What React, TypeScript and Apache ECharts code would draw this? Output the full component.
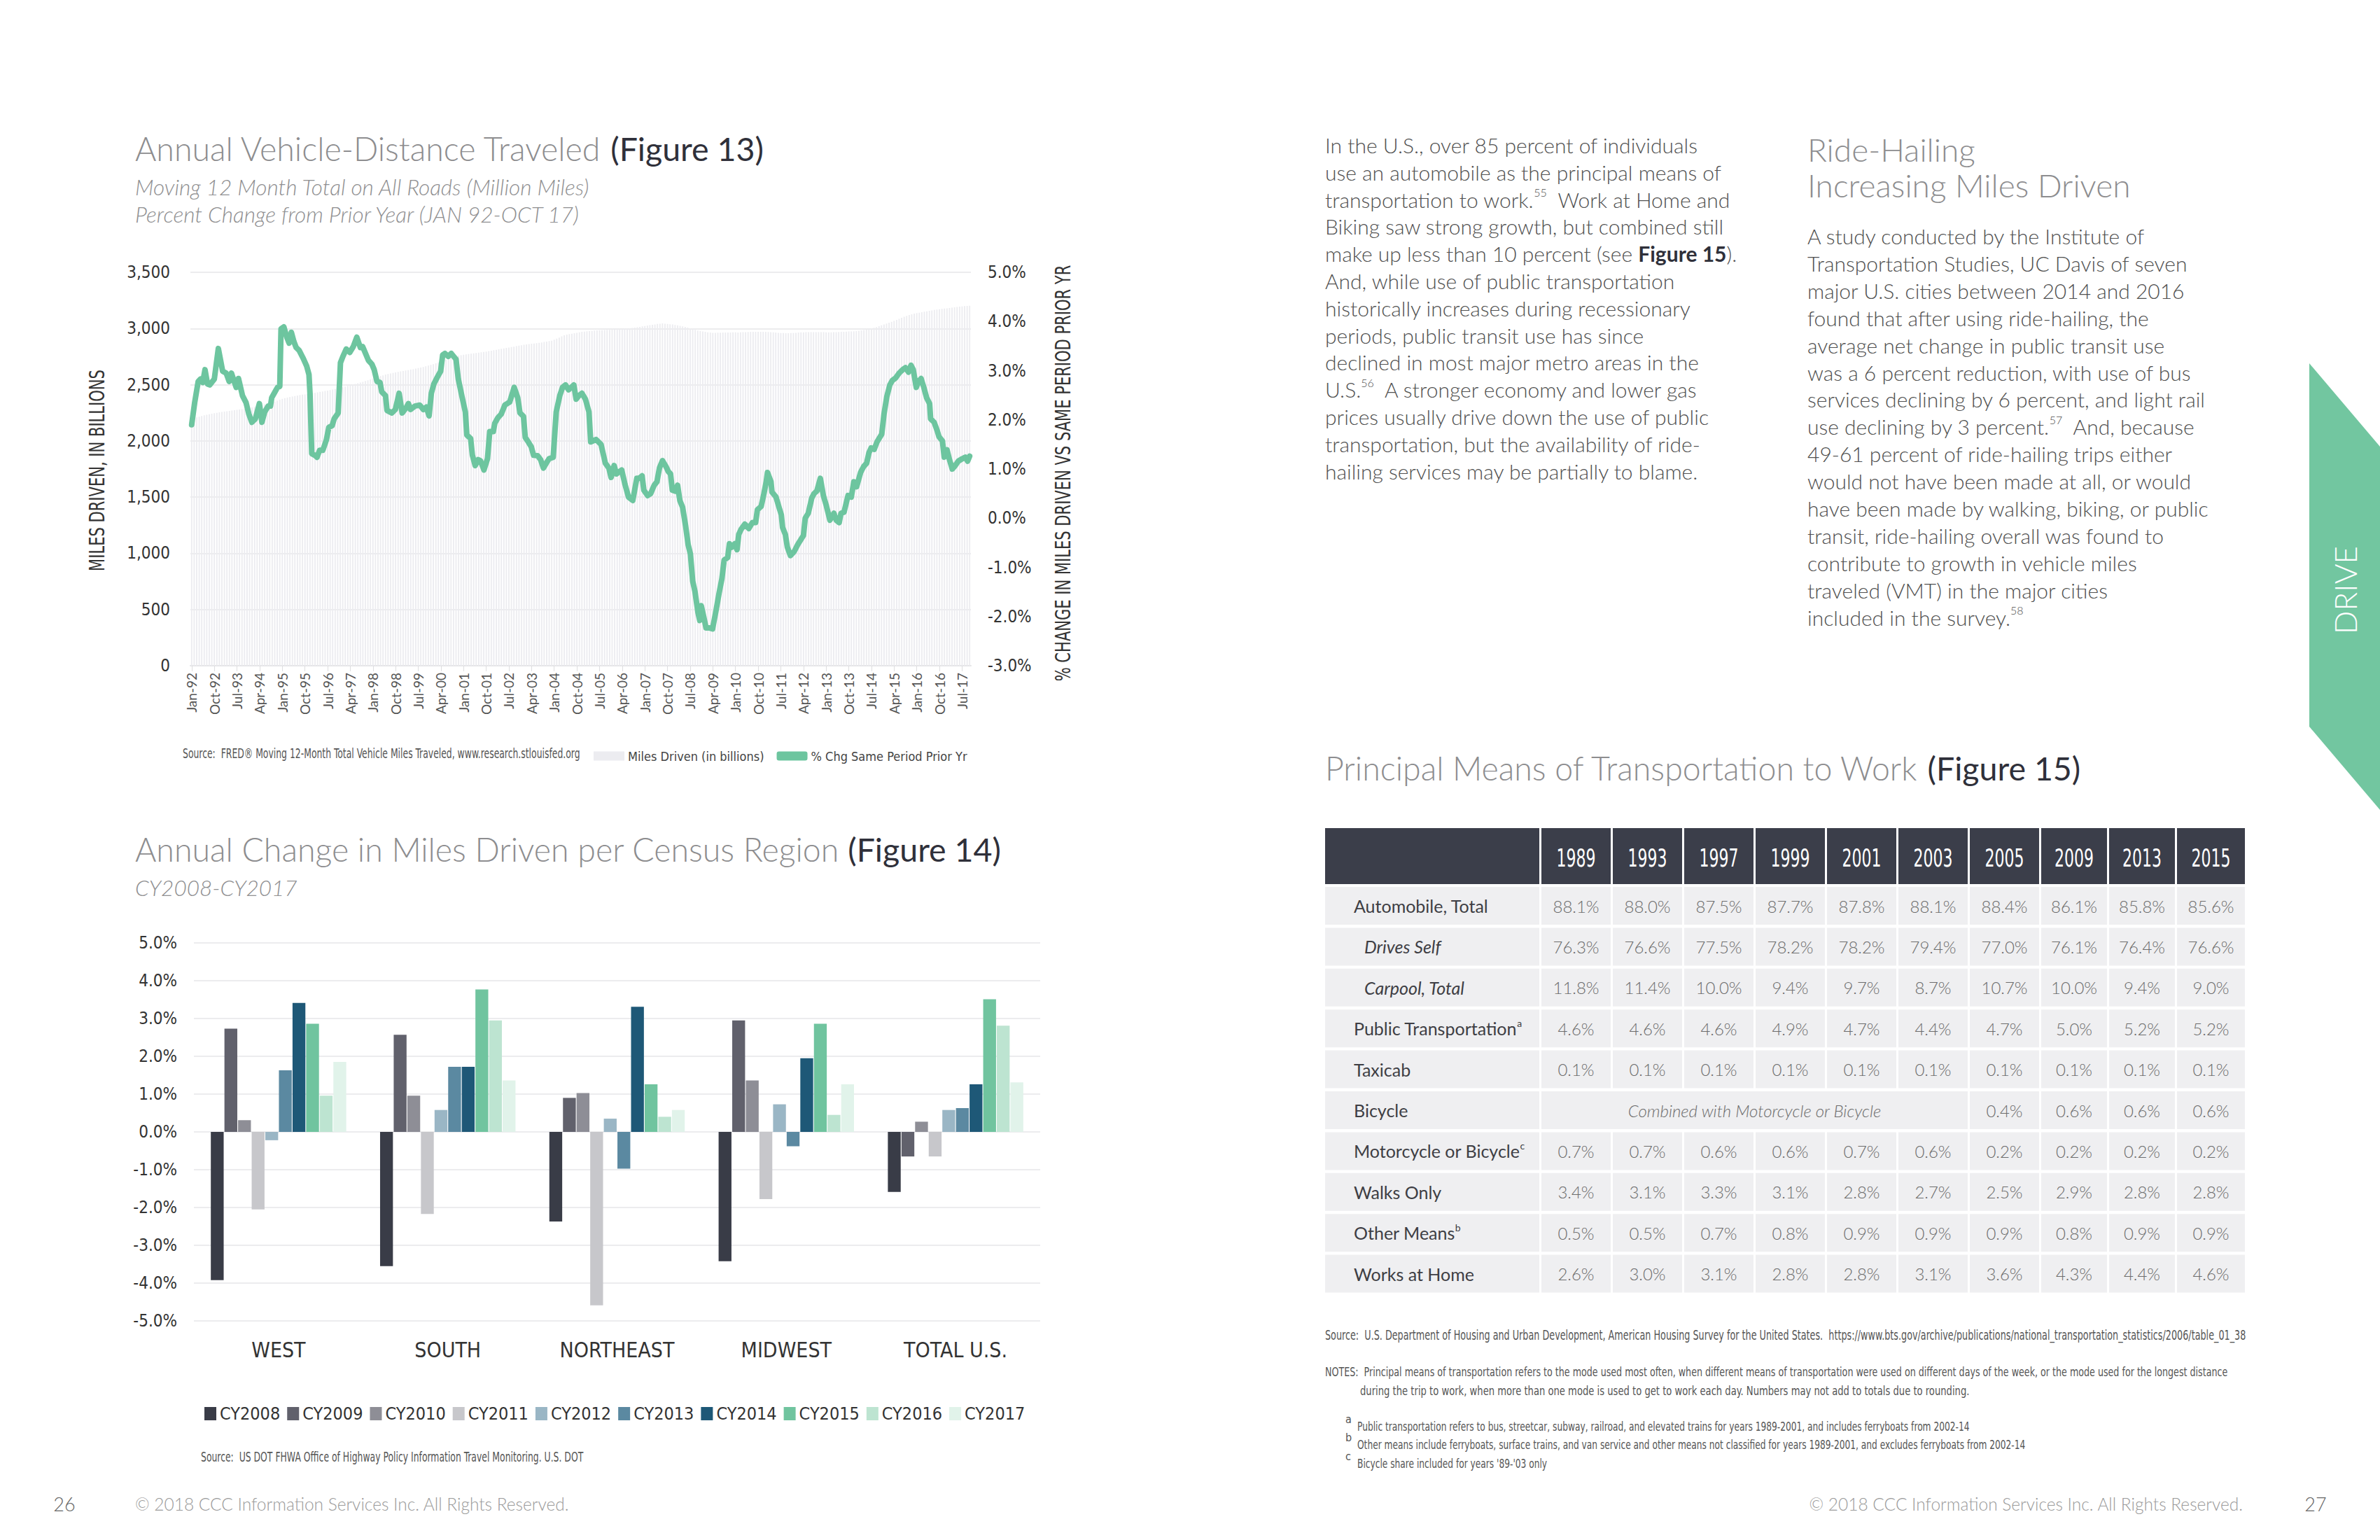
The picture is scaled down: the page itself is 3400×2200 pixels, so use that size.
import React, { useEffect, useRef } from 'react';
import * as echarts from 'echarts';

const SANS = "Lato, 'Open Sans', 'DejaVu Sans', sans-serif";
const NARROW = "'Liberation Sans Narrow', 'DejaVu Sans Condensed', 'DejaVu Sans', sans-serif";

// ---------- Figure 13 data ----------
const MONTH_NAMES = ['Jan', 'Feb', 'Mar', 'Apr', 'May', 'Jun', 'Jul', 'Aug', 'Sep', 'Oct', 'Nov', 'Dec'];
const FIRST_YEAR = 1992;
const LAST_YEAR = 2017;
const LAST_MONTH = 9; // Oct
const monthCategories: string[] = [];
for (let y = FIRST_YEAR; y <= LAST_YEAR; y++) {
  for (let m = 0; m < 12; m++) {
    if (y === LAST_YEAR && m > LAST_MONTH) break;
    monthCategories.push(`${MONTH_NAMES[m]}-${String(y % 100).padStart(2, '0')}`);
  }
}

// Moving 12-month total miles driven (billions), read per month by year
const miles1992 = [2200, 2205, 2210, 2215, 2222, 2228, 2233, 2238, 2242, 2246, 2250, 2254];
const miles1993 = [2258, 2261, 2264, 2267, 2270, 2273, 2276, 2279, 2282, 2286, 2290, 2294];
const miles1994 = [2298, 2303, 2308, 2313, 2318, 2324, 2330, 2336, 2343, 2350, 2358, 2366];
const miles1995 = [2375, 2380, 2385, 2390, 2395, 2400, 2404, 2408, 2411, 2414, 2418, 2422];
const miles1996 = [2425, 2428, 2432, 2436, 2440, 2444, 2448, 2452, 2457, 2462, 2467, 2472];
const miles1997 = [2477, 2483, 2489, 2495, 2501, 2507, 2513, 2519, 2526, 2533, 2540, 2547];
const miles1998 = [2555, 2562, 2569, 2576, 2583, 2590, 2595, 2600, 2605, 2610, 2614, 2618];
const miles1999 = [2622, 2626, 2630, 2634, 2638, 2643, 2648, 2653, 2658, 2664, 2670, 2676];
const miles2000 = [2682, 2690, 2698, 2706, 2714, 2722, 2730, 2738, 2746, 2752, 2757, 2762];
const miles2001 = [2766, 2770, 2773, 2776, 2779, 2782, 2785, 2788, 2791, 2795, 2799, 2803];
const miles2002 = [2807, 2811, 2815, 2819, 2823, 2827, 2831, 2835, 2839, 2843, 2847, 2851];
const miles2003 = [2855, 2858, 2861, 2864, 2867, 2870, 2873, 2876, 2880, 2884, 2888, 2892];
const miles2004 = [2900, 2910, 2920, 2930, 2940, 2945, 2950, 2954, 2958, 2962, 2966, 2970];
const miles2005 = [2972, 2975, 2977, 2979, 2981, 2983, 2984, 2985, 2986, 2987, 2988, 2989];
const miles2006 = [2990, 2992, 2994, 2996, 2998, 3000, 3002, 3005, 3008, 3011, 3015, 3019];
const miles2007 = [3022, 3026, 3030, 3033, 3036, 3040, 3043, 3045, 3043, 3040, 3038, 3036];
const miles2008 = [3032, 3028, 3024, 3019, 3014, 3008, 3000, 2994, 2988, 2982, 2978, 2974];
const miles2009 = [2970, 2966, 2964, 2962, 2962, 2963, 2963, 2964, 2964, 2965, 2965, 2966];
const miles2010 = [2966, 2965, 2966, 2967, 2968, 2969, 2970, 2970, 2970, 2971, 2971, 2970];
const miles2011 = [2970, 2969, 2968, 2966, 2964, 2962, 2960, 2959, 2958, 2958, 2959, 2960];
const miles2012 = [2962, 2964, 2966, 2966, 2967, 2967, 2967, 2968, 2968, 2968, 2968, 2967];
const miles2013 = [2966, 2966, 2966, 2967, 2968, 2969, 2970, 2971, 2972, 2973, 2974, 2975];
const miles2014 = [2977, 2980, 2983, 2986, 2990, 2995, 3000, 3006, 3012, 3020, 3028, 3036];
const miles2015 = [3044, 3052, 3060, 3068, 3077, 3086, 3095, 3104, 3112, 3120, 3126, 3132];
const miles2016 = [3137, 3141, 3145, 3149, 3153, 3157, 3161, 3165, 3168, 3171, 3174, 3177];
const miles2017 = [3180, 3183, 3186, 3189, 3192, 3195, 3197, 3199, 3201, 3203];
const milesDriven = [
  ...miles1992, ...miles1993, ...miles1994, ...miles1995, ...miles1996, ...miles1997,
  ...miles1998, ...miles1999, ...miles2000, ...miles2001, ...miles2002, ...miles2003,
  ...miles2004, ...miles2005, ...miles2006, ...miles2007, ...miles2008, ...miles2009,
  ...miles2010, ...miles2011, ...miles2012, ...miles2013, ...miles2014, ...miles2015,
  ...miles2016, ...miles2017,
];

// % change vs same period prior year: [month index (0 = Jan-92), percent]
const pctChange: [number, number][] = [
  [0, 1.9], [1.2, 2.35], [2.6, 2.78], [3.5, 2.83], [4.4, 2.76], [5.3, 3.02], [6.3, 2.73], [7.2, 2.71], [9.0, 2.83], [10.6, 3.45],
  [12.3, 2.99], [13.7, 2.95], [14.9, 2.78], [15.8, 2.95], [16.9, 2.78], [17.7, 2.66], [18.6, 2.84], [20.2, 2.49], [21.6, 2.35], [22.7, 2.12],
  [23.9, 1.95], [25.3, 2.02], [26.9, 2.33], [27.9, 1.95], [29.0, 2.16], [30.4, 2.28], [31.3, 2.28], [31.8, 2.45], [33.1, 2.57], [34.1, 2.66],
  [35.0, 2.68], [35.5, 3.85], [36.6, 3.89], [37.8, 3.68], [38.7, 3.56], [39.6, 3.78], [40.6, 3.59], [41.5, 3.47], [42.7, 3.41], [44.3, 3.25],
  [45.7, 3.09], [46.6, 2.92], [47.0, 2.54], [47.7, 1.31], [48.9, 1.28], [49.8, 1.24], [50.8, 1.38], [52.1, 1.38], [53.5, 1.59], [54.5, 1.85],
  [55.8, 1.88], [56.6, 2.02], [58.2, 2.14], [59.1, 3.16], [60.0, 3.28], [61.4, 3.44], [62.8, 3.37], [64.2, 3.49], [65.6, 3.68], [67.0, 3.47],
  [67.9, 3.49], [69.3, 3.32], [70.2, 3.21], [71.6, 3.13], [72.5, 3.02], [73.6, 2.78], [74.8, 2.76], [75.5, 2.57], [77.0, 2.49], [77.6, 2.19],
  [79.5, 2.14], [80.9, 2.21], [82.4, 2.54], [83.6, 2.14], [85.0, 2.23], [86.1, 2.33], [86.9, 2.21], [88.7, 2.28], [90.6, 2.3], [92.0, 2.21],
  [93.2, 2.26], [94.3, 2.08], [95.2, 2.54], [96.2, 2.73], [97.6, 2.87], [98.9, 2.99], [99.7, 3.32], [100.6, 3.35], [101.9, 3.29], [103.1, 3.35],
  [105.0, 3.23], [105.9, 2.83], [107.3, 2.49], [108.7, 2.16], [109.3, 1.69], [110.8, 1.62], [111.5, 1.28], [112.6, 1.07], [113.8, 1.19], [114.7, 1.17],
  [116.1, 0.98], [117.5, 1.21], [118.4, 1.76], [119.8, 1.76], [120.4, 1.93], [121.6, 2.04], [123.0, 2.12], [124.4, 2.3], [126.3, 2.36], [128.1, 2.66],
  [129.5, 2.45], [130.4, 2.14], [131.8, 2.07], [132.5, 1.64], [133.7, 1.55], [134.9, 1.45], [135.8, 1.28], [137.4, 1.27], [138.6, 1.19], [139.7, 1.02],
  [141.1, 1.14], [142.0, 1.21], [143.6, 1.24], [144.8, 2.16], [146.2, 2.49], [147.3, 2.66], [148.5, 2.71], [149.7, 2.61], [151.8, 2.71], [152.7, 2.42],
  [153.8, 2.49], [155.0, 2.54], [156.4, 2.42], [157.8, 2.16], [158.5, 1.55], [160.6, 1.6], [162.6, 1.5], [164.3, 1.12], [165.7, 1.02], [166.6, 0.83],
  [167.8, 1.07], [168.7, 0.9], [170.8, 0.98], [172.1, 0.69], [173.5, 0.43], [175.2, 0.36], [176.8, 0.81], [177.7, 0.81], [178.9, 0.86], [179.6, 0.57],
  [181.1, 0.46], [182.3, 0.5], [183.7, 0.67], [184.8, 0.74], [185.8, 1.02], [187.0, 1.17], [188.4, 1.05], [189.3, 0.95], [190.2, 0.9], [190.9, 0.57],
  [192.1, 0.55], [193.0, 0.67], [193.9, 0.36], [195.0, 0.22], [196.2, -0.16], [197.2, -0.54], [198.1, -0.73], [199.0, -1.28], [199.9, -1.49], [201.1, -1.92],
  [201.8, -2.08], [202.4, -1.78], [203.4, -2.01], [204.3, -2.23], [205.5, -2.23], [206.9, -2.25], [208.3, -1.87], [209.5, -1.52], [210.6, -1.23], [211.5, -0.85],
  [212.9, -0.8], [213.6, -0.52], [214.5, -0.59], [215.7, -0.52], [216.6, -0.64], [217.3, -0.33], [218.2, -0.23], [219.7, -0.12], [221.3, -0.21], [222.7, -0.09],
  [224.0, -0.09], [224.7, 0.17], [226.2, 0.24], [227.3, 0.5], [228.2, 0.74], [228.7, 0.93], [230.1, 0.74], [230.5, 0.53], [232.1, 0.43], [233.3, 0.22],
  [234.2, 0.07], [234.7, -0.19], [235.8, -0.33], [236.6, -0.59], [237.8, -0.76], [239.3, -0.68], [240.7, -0.54], [243.0, -0.35], [243.7, 0.0], [244.9, 0.1],
  [246.3, 0.41], [247.2, 0.5], [248.3, 0.55], [249.7, 0.81], [250.9, 0.46], [252.0, 0.27], [253.5, -0.04], [255.1, 0.1], [256.0, -0.04], [257.2, -0.09],
  [257.9, 0.1], [259.1, 0.12], [260.7, 0.46], [262.0, 0.43], [263.0, 0.74], [264.1, 0.64], [265.7, 0.93], [266.9, 1.05], [268.1, 1.12], [269.0, 1.33],
  [269.9, 1.43], [271.1, 1.4], [272.2, 1.55], [274.1, 1.71], [275.0, 2.12], [276.1, 2.47], [277.3, 2.71], [278.3, 2.8], [279.6, 2.85], [281.0, 2.95],
  [282.4, 3.02], [283.5, 3.06], [284.7, 2.97], [285.7, 3.11], [286.6, 3.02], [287.8, 2.66], [288.7, 2.78], [289.7, 2.84], [290.8, 2.66], [291.9, 2.45],
  [293.1, 2.33], [293.5, 2.02], [294.9, 1.95], [296.1, 1.78], [296.8, 1.66], [298.2, 1.57], [298.9, 1.24], [300.0, 1.39], [301.0, 1.19], [302.1, 1.0],
  [303.3, 1.07], [304.5, 1.16], [306.1, 1.21], [307.3, 1.24], [308.2, 1.16], [309.0, 1.26],
];

// ---------- Figure 14 data ----------
const regions = ['WEST', 'SOUTH', 'NORTHEAST', 'MIDWEST', 'TOTAL U.S.'];
const cyNames = ['CY2008', 'CY2009', 'CY2010', 'CY2011', 'CY2012', 'CY2013', 'CY2014', 'CY2015', 'CY2016', 'CY2017'];
const cy2008 = [-3.92, -3.55, -2.37, -3.42, -1.59];
const cy2009 = [2.73, 2.57, 0.9, 2.95, -0.65];
const cy2010 = [0.31, 0.96, 1.03, 1.36, 0.27];
const cy2011 = [-2.05, -2.17, -4.59, -1.78, -0.65];
const cy2012 = [-0.22, 0.58, 0.35, 0.73, 0.58];
const cy2013 = [1.63, 1.72, -0.97, -0.38, 0.63];
const cy2014 = [3.41, 1.72, 3.31, 1.95, 1.26];
const cy2015 = [2.86, 3.77, 1.26, 2.86, 3.51];
const cy2016 = [0.96, 2.95, 0.4, 0.45, 2.81];
const cy2017 = [1.85, 1.36, 0.58, 1.26, 1.31];
const cyValues = [cy2008, cy2009, cy2010, cy2011, cy2012, cy2013, cy2014, cy2015, cy2016, cy2017];
const cyColors = ['#393c47', '#61616c', '#8e8e96', '#c7c7cb', '#9ab6c5', '#5b89a1', '#1e5877', '#70c49f', '#bde4d1', '#e1f3ea'];

// ---------- Figure 15 data ----------
const tableYears = ['1989', '1993', '1997', '1999', '2001', '2003', '2005', '2009', '2013', '2015'];
const rowLabels = ['Automobile, Total', 'Drives Self', 'Carpool, Total', 'Public Transportation', 'Taxicab', 'Bicycle', 'Motorcycle or Bicycle', 'Walks Only', 'Other Means', 'Works at Home'];
const rowNotes = ['', '', '', 'a', '', '', 'c', '', 'b', ''];
const rowItalic = [false, true, true, false, false, false, false, false, false, false];
const automobileTotal = [88.1, 88.0, 87.5, 87.7, 87.8, 88.1, 88.4, 86.1, 85.8, 85.6];
const drivesSelf = [76.3, 76.6, 77.5, 78.2, 78.2, 79.4, 77.0, 76.1, 76.4, 76.6];
const carpoolTotal = [11.8, 11.4, 10.0, 9.4, 9.7, 8.7, 10.7, 10.0, 9.4, 9.0];
const publicTransportation = [4.6, 4.6, 4.6, 4.9, 4.7, 4.4, 4.7, 5.0, 5.2, 5.2];
const taxicab = [0.1, 0.1, 0.1, 0.1, 0.1, 0.1, 0.1, 0.1, 0.1, 0.1];
const bicycle = [null, null, null, null, null, null, 0.4, 0.6, 0.6, 0.6];
const motorcycleOrBicycle = [0.7, 0.7, 0.6, 0.6, 0.7, 0.6, 0.2, 0.2, 0.2, 0.2];
const walksOnly = [3.4, 3.1, 3.3, 3.1, 2.8, 2.7, 2.5, 2.9, 2.8, 2.8];
const otherMeans = [0.5, 0.5, 0.7, 0.8, 0.9, 0.9, 0.9, 0.8, 0.9, 0.9];
const worksAtHome = [2.6, 3.0, 3.1, 2.8, 2.8, 3.1, 3.6, 4.3, 4.4, 4.6];
const tableRows: (number | null)[][] = [automobileTotal, drivesSelf, carpoolTotal, publicTransportation, taxicab, bicycle, motorcycleOrBicycle, walksOnly, otherMeans, worksAtHome];
const mergedNote = 'Combined with Motorcycle or Bicycle';

// ---------- Texts ----------
const leftColumn = [
  'In the U.S., over 85 percent of individuals',
  'use an automobile as the principal means of',
  'transportation to work.{s|55}  Work at Home and',
  'Biking saw strong growth, but combined still',
  'make up less than 10 percent (see {b|Figure 15}).',
  'And, while use of public transportation',
  'historically increases during recessionary',
  'periods, public transit use has since',
  'declined in most major metro areas in the',
  'U.S.{s|56}  A stronger economy and lower gas',
  'prices usually drive down the use of public',
  'transportation, but the availability of ride-',
  'hailing services may be partially to blame.',
];
const rightColumn = [
  'A study conducted by the Institute of',
  'Transportation Studies, UC Davis of seven',
  'major U.S. cities between 2014 and 2016',
  'found that after using ride-hailing, the',
  'average net change in public transit use',
  'was a 6 percent reduction, with use of bus',
  'services declining by 6 percent, and light rail',
  'use declining by 3 percent.{s|57}  And, because',
  '49-61 percent of ride-hailing trips either',
  'would not have been made at all, or would',
  'have been made by walking, biking, or public',
  'transit, ride-hailing overall was found to',
  'contribute to growth in vehicle miles',
  'traveled (VMT) in the major cities',
  'included in the survey.{s|58}',
];
const footnotes = [
  ['a', 'Public transportation refers to bus, streetcar, subway, railroad, and elevated trains for years 1989-2001, and includes ferryboats from 2002-14'],
  ['b', 'Other means include ferryboats, surface trains, and van service and other means not classified for years 1989-2001, and excludes ferryboats from 2002-14'],
  ['c', "Bicycle share included for years '89-'03 only"],
];

// ---------- helpers ----------
const TITLE_GREY = '#8d8d8f';
const DARK = '#2f303a';
const BODY = '#505050';

function txt(x: number, y: number, text: string, style: any, extra: any = {}) {
  return { type: 'text', x, y, silent: true, ...extra, style: { text, ...style } };
}

function titleRich(x: number, y: number, main: string, fig: string) {
  return txt(x, y, `{a|${main}}{b| ${fig}}`, {
    verticalAlign: 'middle',
    rich: {
      a: { fontFamily: SANS, fontSize: 46.5, fontWeight: 300, fill: TITLE_GREY },
      b: { fontFamily: SANS, fontSize: 46.5, fontWeight: 400, fill: DARK },
    },
  });
}

function bodyLine(x: number, y: number, text: string) {
  return txt(x, y, text, {
    fontFamily: SANS, fontSize: 30, fontWeight: 300, fill: BODY, verticalAlign: 'middle', lineHeight: 36,
    rich: {
      s: { fontFamily: SANS, fontSize: 16, fontWeight: 300, fill: BODY, lineHeight: 20, verticalAlign: 'top' },
      b: { fontFamily: SANS, fontSize: 30, fontWeight: 700, fill: DARK, lineHeight: 36 },
    },
  });
}

function buildGraphic() {
  const els: any[] = [];

  // ---- Figure 13 header ----
  els.push(titleRich(193, 212, 'Annual Vehicle-Distance Traveled', '(Figure 13)'));
  const subStyle = { fontFamily: SANS, fontSize: 31.5, fontStyle: 'italic', fontWeight: 300, fill: '#8f8f91', verticalAlign: 'middle' };
  els.push(txt(193, 267, 'Moving 12 Month Total on All Roads (Million Miles)', subStyle));
  els.push(txt(193, 306, 'Percent Change from Prior Year (JAN 92-OCT 17)', subStyle));
  const axisNameStyle = { fontFamily: NARROW, fontSize: 30, fill: '#333', align: 'center', verticalAlign: 'middle' };
  els.push(txt(138, 672, 'MILES DRIVEN, IN BILLIONS', axisNameStyle, { rotation: Math.PI / 2, scaleX: 0.78 }));
  els.push(txt(1518, 676, '% CHANGE IN MILES DRIVEN VS SAME PERIOD PRIOR YR', axisNameStyle, { rotation: Math.PI / 2, scaleX: 0.78 }));
  els.push(txt(261, 1076, 'Source:  FRED\u00ae Moving 12-Month Total Vehicle Miles Traveled, www.research.stlouisfed.org',
    { fontFamily: NARROW, fontSize: 20, fill: '#555', verticalAlign: 'middle' }, { scaleX: 0.69 }));

  // ---- Figure 14 header ----
  els.push(titleRich(193, 1213, 'Annual Change in Miles Driven per Census Region', '(Figure 14)'));
  els.push(txt(193, 1268, 'CY2008-CY2017', subStyle));
  els.push(txt(287, 2081, 'Source:  US DOT FHWA Office of Highway Policy Information Travel Monitoring. U.S. DOT',
    { fontFamily: NARROW, fontSize: 20, fill: '#555', verticalAlign: 'middle' }, { scaleX: 0.69 }));

  // ---- footers ----
  const footStyle = { fontFamily: SANS, fontSize: 24.5, fontWeight: 300, fill: '#9a9a9a', verticalAlign: 'middle' };
  els.push(txt(193, 2148, '\u00a9 2018 CCC Information Services Inc. All Rights Reserved.', footStyle));
  els.push(txt(92, 2148, '26', { fontFamily: SANS, fontSize: 27, fontWeight: 300, fill: '#666', align: 'center', verticalAlign: 'middle' }));
  els.push(txt(3204, 2148, '\u00a9 2018 CCC Information Services Inc. All Rights Reserved.', { ...footStyle, align: 'right' }));
  els.push(txt(3308, 2148, '27', { fontFamily: SANS, fontSize: 27, fontWeight: 300, fill: '#666', align: 'center', verticalAlign: 'middle' }));

  // ---- body text columns ----
  leftColumn.forEach((line, i) => els.push(bodyLine(1893, 207 + i * 38.8, line)));
  const rhStyle = { fontFamily: SANS, fontSize: 46, fontWeight: 300, fill: TITLE_GREY, verticalAlign: 'middle' };
  els.push(txt(2582, 213, 'Ride-Hailing', rhStyle));
  els.push(txt(2582, 264, 'Increasing Miles Driven', rhStyle));
  rightColumn.forEach((line, i) => els.push(bodyLine(2582, 337 + i * 38.9, line)));

  // ---- DRIVE tab ----
  els.push({ type: 'polygon', silent: true, shape: { points: [[3299, 519], [3400, 638], [3400, 1157], [3299, 1038]] }, style: { fill: '#72c6a0' } });
  els.push(txt(3350, 843, 'DRIVE', { fontFamily: SANS, fontSize: 44, fontWeight: 300, fill: '#ffffff', align: 'center', verticalAlign: 'middle' }, { rotation: Math.PI / 2 }));

  // ---- Figure 15 ----
  els.push(titleRich(1893, 1097, 'Principal Means of Transportation to Work', '(Figure 15)'));
  const TX = 1893, LABEL_W = 306, GAP = 3;
  const colW = [99, 99, 99, 99, 99, 99, 99, 94, 94, 97];
  const colX: number[] = [];
  let cx = TX + LABEL_W + GAP;
  colW.forEach((w) => { colX.push(cx); cx += w + GAP; });
  const HEAD_Y = 1183, HEAD_H = 80, ROW_Y = 1267, ROW_P = 58.4, ROW_H = 54;
  const HEAD_BG = '#3b3e4a', CELL_BG = '#efeff1';
  els.push({ type: 'rect', silent: true, shape: { x: TX, y: HEAD_Y, width: LABEL_W, height: HEAD_H }, style: { fill: HEAD_BG } });
  tableYears.forEach((yr, c) => {
    els.push({ type: 'rect', silent: true, shape: { x: colX[c], y: HEAD_Y, width: colW[c], height: HEAD_H }, style: { fill: HEAD_BG } });
    els.push(txt(colX[c] + colW[c] / 2, HEAD_Y + HEAD_H / 2 + 2, yr,
      { fontFamily: NARROW, fontSize: 36, fill: '#ffffff', align: 'center', verticalAlign: 'middle' }, { scaleX: 0.68 }));
  });
  const valStyle = { fontFamily: SANS, fontSize: 24, fontWeight: 300, fill: '#6c6c6c', align: 'center', verticalAlign: 'middle' };
  tableRows.forEach((vals, r) => {
    const y = ROW_Y + r * ROW_P;
    els.push({ type: 'rect', silent: true, shape: { x: TX, y, width: LABEL_W, height: ROW_H }, style: { fill: CELL_BG } });
    const note = rowNotes[r];
    const label = note ? `${rowLabels[r]}{s|${note}}` : rowLabels[r];
    els.push(txt(rowItalic[r] ? 1949 : 1934, y + ROW_H / 2, label, {
      fontFamily: SANS, fontSize: 25, fontWeight: 400, fontStyle: rowItalic[r] ? 'italic' : 'normal', fill: '#3e3e44',
      verticalAlign: 'middle', lineHeight: 30,
      rich: { s: { fontFamily: SANS, fontSize: 14, fill: '#3e3e44', lineHeight: 16, verticalAlign: 'top' } },
    }));
    let c = 0;
    while (c < vals.length) {
      const v = vals[c];
      if (v === null) {
        let e = c;
        while (e + 1 < vals.length && vals[e + 1] === null) e++;
        const x0 = colX[c], x1 = colX[e] + colW[e];
        els.push({ type: 'rect', silent: true, shape: { x: x0, y, width: x1 - x0, height: ROW_H }, style: { fill: CELL_BG } });
        els.push(txt((x0 + x1) / 2, y + ROW_H / 2, mergedNote, { ...valStyle, fontStyle: 'italic' }));
        c = e + 1;
      } else {
        els.push({ type: 'rect', silent: true, shape: { x: colX[c], y, width: colW[c], height: ROW_H }, style: { fill: CELL_BG } });
        els.push(txt(colX[c] + colW[c] / 2, y + ROW_H / 2, `${v.toFixed(1)}%`, valStyle));
        c++;
      }
    }
  });

  // ---- Figure 15 notes ----
  const noteStyle = { fontFamily: NARROW, fontSize: 19, fill: '#555', verticalAlign: 'middle' };
  els.push(txt(1893, 1907, 'Source:  U.S. Department of Housing and Urban Development, American Housing Survey for the United States.  https://www.bts.gov/archive/publications/national_transportation_statistics/2006/table_01_38',
    noteStyle, { scaleX: 0.748 }));
  els.push(txt(1893, 1961, 'NOTES:  Principal means of transportation refers to the mode used most often, when different means of transportation were used on different days of the week, or the mode used for the longest distance',
    { ...noteStyle, fontSize: 17 }, { scaleX: 0.83 }));
  els.push(txt(1943, 1987, 'during the trip to work, when more than one mode is used to get to work each day. Numbers may not add to totals due to rounding.',
    { ...noteStyle, fontSize: 17 }, { scaleX: 0.86 }));
  footnotes.forEach(([letter, text], i) => {
    const y = 2038 + i * 26.5;
    els.push(txt(1922, y - 11, letter, { fontFamily: NARROW, fontSize: 16, fill: '#555', verticalAlign: 'middle' }));
    els.push(txt(1939, y, text, { ...noteStyle, fontSize: 17 }, { scaleX: 0.8 }));
  });

  return els;
}

const pctFmt = (v: number) => `${v.toFixed(1)}%`;

function buildOption(): any {
  return {
    animation: false,
    backgroundColor: '#ffffff',
    textStyle: { fontFamily: SANS },
    grid: [
      { left: 272, top: 389, width: 1115, height: 562 },
      { left: 277, top: 1347, width: 1209, height: 540 },
    ],
    xAxis: [
      {
        type: 'category', gridIndex: 0, data: monthCategories,
        axisLine: { lineStyle: { color: '#e4e4e6', width: 2 } },
        axisTick: { show: true, interval: 8, alignWithLabel: true, length: 8, lineStyle: { color: '#dedee0' } },
        axisLabel: { interval: 8, rotate: 90, fontFamily: SANS, fontSize: 19, color: '#555', margin: 10 },
      },
      { type: 'value', gridIndex: 0, min: -0.5, max: monthCategories.length - 0.5, show: false },
      {
        type: 'category', gridIndex: 1, data: regions,
        axisLine: { show: false }, axisTick: { show: false },
        axisLabel: { interval: 0, fontFamily: NARROW, fontSize: 30, color: '#333', margin: 26 },
      },
    ],
    yAxis: [
      {
        type: 'value', gridIndex: 0, min: 0, max: 3500, interval: 500,
        axisLine: { show: false }, axisTick: { show: false },
        splitLine: { lineStyle: { color: '#ececee', width: 2 } },
        axisLabel: { formatter: (v: number) => v.toLocaleString('en-US'), fontFamily: NARROW, fontSize: 24, color: '#333', margin: 29 },
      },
      {
        type: 'value', gridIndex: 0, position: 'right', min: -3, max: 5, interval: 1,
        axisLine: { show: false }, axisTick: { show: false }, splitLine: { show: false },
        axisLabel: { formatter: pctFmt, fontFamily: NARROW, fontSize: 24, color: '#333', margin: 24 },
      },
      {
        type: 'value', gridIndex: 1, min: -5, max: 5, interval: 1,
        axisLine: { show: false }, axisTick: { show: false },
        splitLine: { lineStyle: { color: '#ececee', width: 2 } },
        axisLabel: { formatter: pctFmt, fontFamily: NARROW, fontSize: 24, color: '#333', margin: 24 },
      },
    ],
    legend: [
      {
        left: 843, top: 1066, itemWidth: 44, itemHeight: 13, itemGap: 18,
        data: [
          { name: 'Miles Driven (in billions)', icon: 'rect' },
          { name: '% Chg Same Period Prior Yr', icon: 'roundRect' },
        ],
        textStyle: { fontFamily: NARROW, fontSize: 18, color: '#444' },
      },
      {
        left: 287, top: 2002, itemWidth: 17, itemHeight: 19, itemGap: 10, icon: 'rect',
        data: cyNames,
        textStyle: { fontFamily: NARROW, fontSize: 25, color: '#333' },
      },
    ],
    series: [
      {
        name: 'Miles Driven (in billions)', type: 'bar', xAxisIndex: 0, yAxisIndex: 0,
        data: milesDriven, barCategoryGap: '50%', itemStyle: { color: '#ececf0' }, z: 1,
      },
      {
        name: '% Chg Same Period Prior Yr', type: 'line', xAxisIndex: 1, yAxisIndex: 1,
        data: pctChange, showSymbol: false, symbol: 'none',
        lineStyle: { color: '#6dc59f', width: 8, join: 'round', cap: 'round' }, itemStyle: { color: '#6dc59f' }, z: 3,
      },
      ...cyNames.map((name, k) => ({
        name, type: 'bar', xAxisIndex: 2, yAxisIndex: 2, data: cyValues[k],
        barCategoryGap: '20%', barGap: '6%', itemStyle: { color: cyColors[k] },
      })),
    ],
    graphic: { elements: buildGraphic() },
  };
}

export default function App() {
  const ref = useRef<HTMLDivElement>(null);
  useEffect(() => {
    document.body.style.margin = '0';
    const chart = echarts.init(ref.current as HTMLDivElement, null, { renderer: 'svg', width: 3400, height: 2200 });
    chart.setOption(buildOption());
    return () => chart.dispose();
  }, []);
  return <div ref={ref} style={{ width: 3400, height: 2200, background: '#ffffff' }} />;
}
